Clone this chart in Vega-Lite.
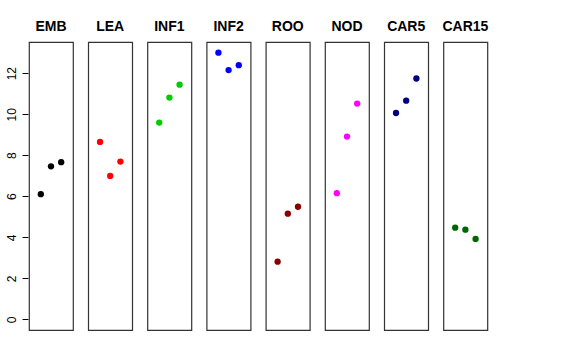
{
  "$schema": "https://vega.github.io/schema/vega-lite/v6.json",
  "padding": {"left": 5, "top": 20, "right": 5, "bottom": 5},
  "background": "white",
  "data": {
    "values": [
      {"panel": "EMB", "idx": 1, "value": 6.10},
      {"panel": "EMB", "idx": 2, "value": 7.46},
      {"panel": "EMB", "idx": 3, "value": 7.66},
      {"panel": "LEA", "idx": 1, "value": 8.65},
      {"panel": "LEA", "idx": 2, "value": 6.99},
      {"panel": "LEA", "idx": 3, "value": 7.69},
      {"panel": "INF1", "idx": 1, "value": 9.59},
      {"panel": "INF1", "idx": 2, "value": 10.81},
      {"panel": "INF1", "idx": 3, "value": 11.44},
      {"panel": "INF2", "idx": 1, "value": 13.0},
      {"panel": "INF2", "idx": 2, "value": 12.15},
      {"panel": "INF2", "idx": 3, "value": 12.39},
      {"panel": "ROO", "idx": 1, "value": 2.81},
      {"panel": "ROO", "idx": 2, "value": 5.15},
      {"panel": "ROO", "idx": 3, "value": 5.49},
      {"panel": "NOD", "idx": 1, "value": 6.15},
      {"panel": "NOD", "idx": 2, "value": 8.91},
      {"panel": "NOD", "idx": 3, "value": 10.52},
      {"panel": "CAR5", "idx": 1, "value": 10.06},
      {"panel": "CAR5", "idx": 2, "value": 10.66},
      {"panel": "CAR5", "idx": 3, "value": 11.74},
      {"panel": "CAR15", "idx": 1, "value": 4.47},
      {"panel": "CAR15", "idx": 2, "value": 4.37},
      {"panel": "CAR15", "idx": 3, "value": 3.92}
    ]
  },
  "facet": {
    "column": {
      "field": "panel",
      "type": "nominal",
      "sort": ["EMB", "LEA", "INF1", "INF2", "ROO", "NOD", "CAR5", "CAR15"],
      "header": {
        "title": null,
        "labelFont": "Liberation Sans",
        "labelFontSize": 14,
        "labelFontWeight": "bold",
        "labelColor": "black",
        "labelPadding": 7
      }
    }
  },
  "spacing": 13.2,
  "spec": {
    "width": 44,
    "height": 288,
    "mark": {"type": "point", "filled": true, "size": 40, "opacity": 1},
    "encoding": {
      "x": {
        "field": "idx",
        "type": "quantitative",
        "scale": {"domain": [-0.16, 4.16], "nice": false, "zero": false},
        "axis": null
      },
      "y": {
        "field": "value",
        "type": "quantitative",
        "scale": {"domain": [-0.52, 13.52], "nice": false, "zero": false},
        "axis": {
          "title": null,
          "values": [0, 2, 4, 6, 8, 10, 12],
          "domain": false,
          "grid": false,
          "tickSize": 6,
          "tickColor": "black",
          "labelAngle": -90,
          "labelAlign": "center",
          "labelBaseline": "bottom",
          "labelPadding": 4,
          "labelFont": "Liberation Sans",
          "labelFontSize": 12,
          "labelColor": "black"
        }
      },
      "color": {
        "field": "panel",
        "type": "nominal",
        "scale": {
          "domain": ["EMB", "LEA", "INF1", "INF2", "ROO", "NOD", "CAR5", "CAR15"],
          "range": ["#000000", "#FF0000", "#00CD00", "#0000FF", "#8B0000", "#FF00FF", "#000080", "#006400"]
        },
        "legend": null
      }
    }
  },
  "config": {
    "view": {"stroke": "#333333", "strokeWidth": 1.2}
  }
}
